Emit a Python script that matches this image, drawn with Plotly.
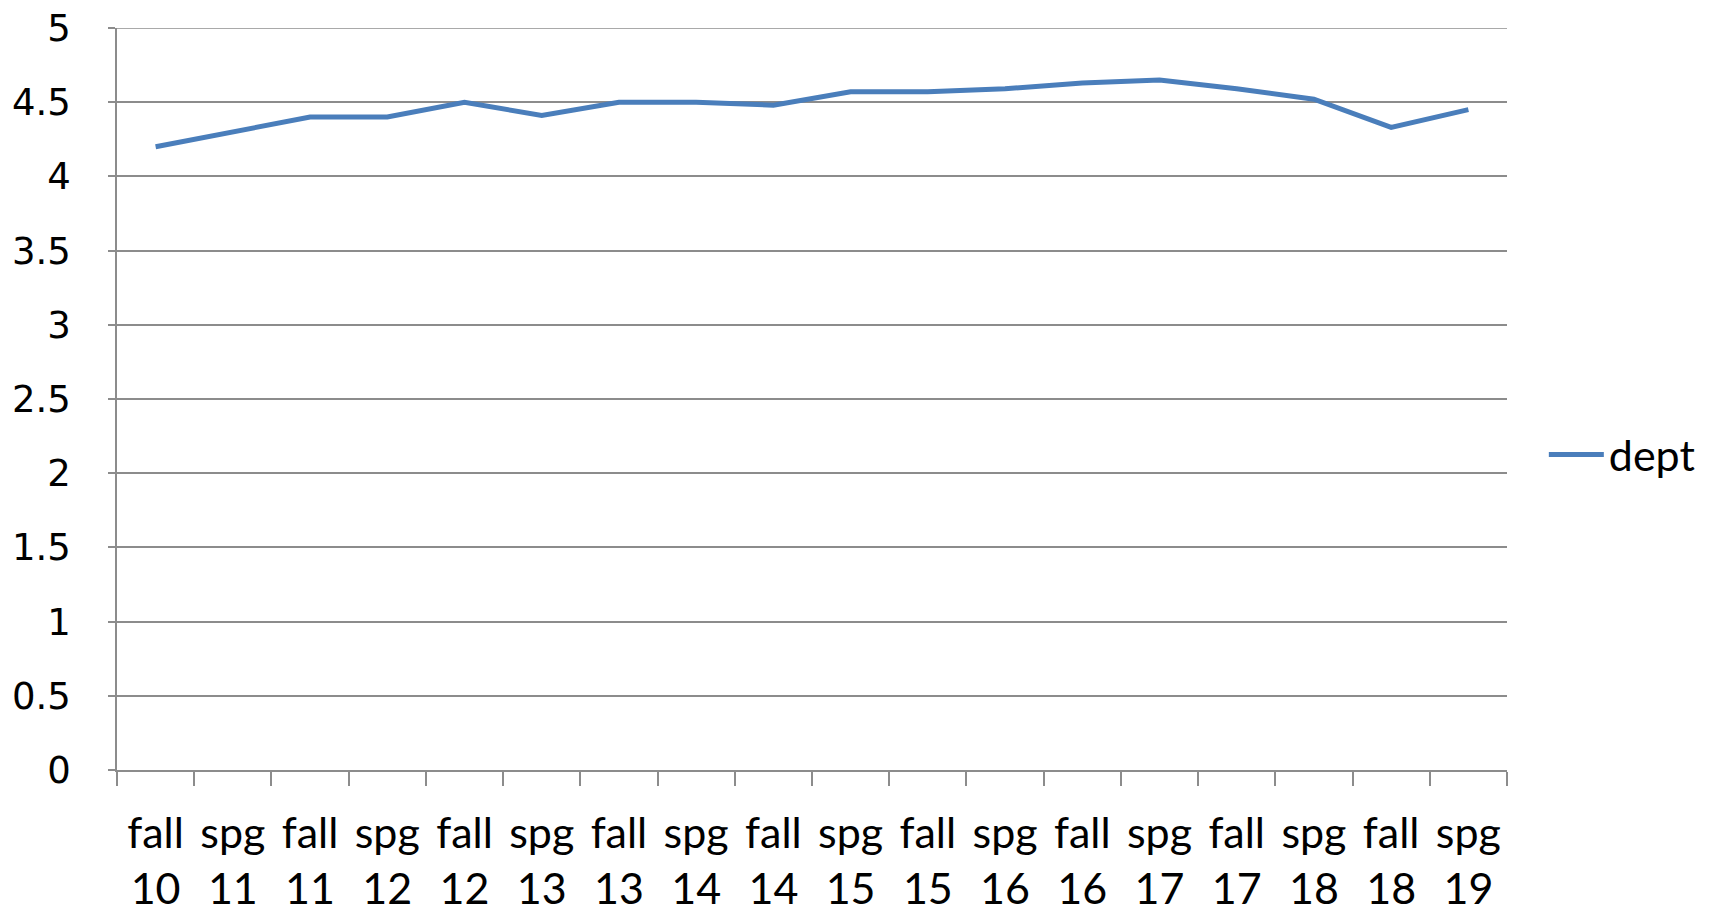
import plotly.graph_objects as go

terms = ["fall", "spg", "fall", "spg", "fall", "spg", "fall", "spg", "fall",
         "spg", "fall", "spg", "fall", "spg", "fall", "spg", "fall", "spg"]
years = ["10", "11", "11", "12", "12", "13", "13", "14", "14",
         "15", "15", "16", "16", "17", "17", "18", "18", "19"]
dept = [4.2, 4.3, 4.4, 4.4, 4.5, 4.41, 4.5, 4.5, 4.48,
        4.57, 4.57, 4.59, 4.63, 4.65, 4.59, 4.52, 4.33, 4.45]
y_ticks = [0, 0.5, 1, 1.5, 2, 2.5, 3, 3.5, 4, 4.5, 5]

categories = [f"{t}<br>{y}" for t, y in zip(terms, years)]

fig = go.Figure()
fig.add_trace(go.Scatter(
    x=categories, y=dept, mode="lines", name="dept",
    line=dict(color="#4A7EBB", width=5),
))

grid = "#8C8C8C"
# top gridline at the axis maximum
fig.add_shape(type="line", xref="paper", x0=0, x1=1, yref="y",
              y0=max(y_ticks), y1=max(y_ticks),
              line=dict(color=grid, width=1.5), layer="below")

fig.update_layout(
    width=1715, height=910,
    margin=dict(l=109, r=216, t=20, b=148),
    plot_bgcolor="white", paper_bgcolor="white",
    showlegend=True,
    legend=dict(x=1.0265, xanchor="left", y=0.425, yanchor="middle",
                itemwidth=55,
                font=dict(family="Lato", size=43, color="black"),
                bgcolor="rgba(0,0,0,0)", borderwidth=0),
    xaxis=dict(
        type="category", range=[-0.5, len(categories) - 0.5],
        tickson="boundaries", ticks="outside", ticklen=14,
        tickcolor=grid, tickwidth=1.5,
        showline=True, linecolor=grid, linewidth=1.5,
        showgrid=False, automargin=False,
        tickfont=dict(family="Lato", size=43, color="black"),
        ticklabelstandoff=25, ticklabeloverflow="allow",
    ),
    yaxis=dict(
        range=[0, 5], tickvals=y_ticks, ticktext=[f"{v:g}" for v in y_ticks],
        ticks="outside", ticklen=7, tickcolor=grid, tickwidth=1.5,
        showline=True, linecolor=grid, linewidth=1.5,
        showgrid=True, gridcolor=grid, gridwidth=1.5,
        zeroline=False, automargin=False,
        tickfont=dict(family="DejaVu Sans", size=37, color="black"),
        ticklabelstandoff=30, ticklabeloverflow="allow",
    ),
)

fig.write_html("out.html")
